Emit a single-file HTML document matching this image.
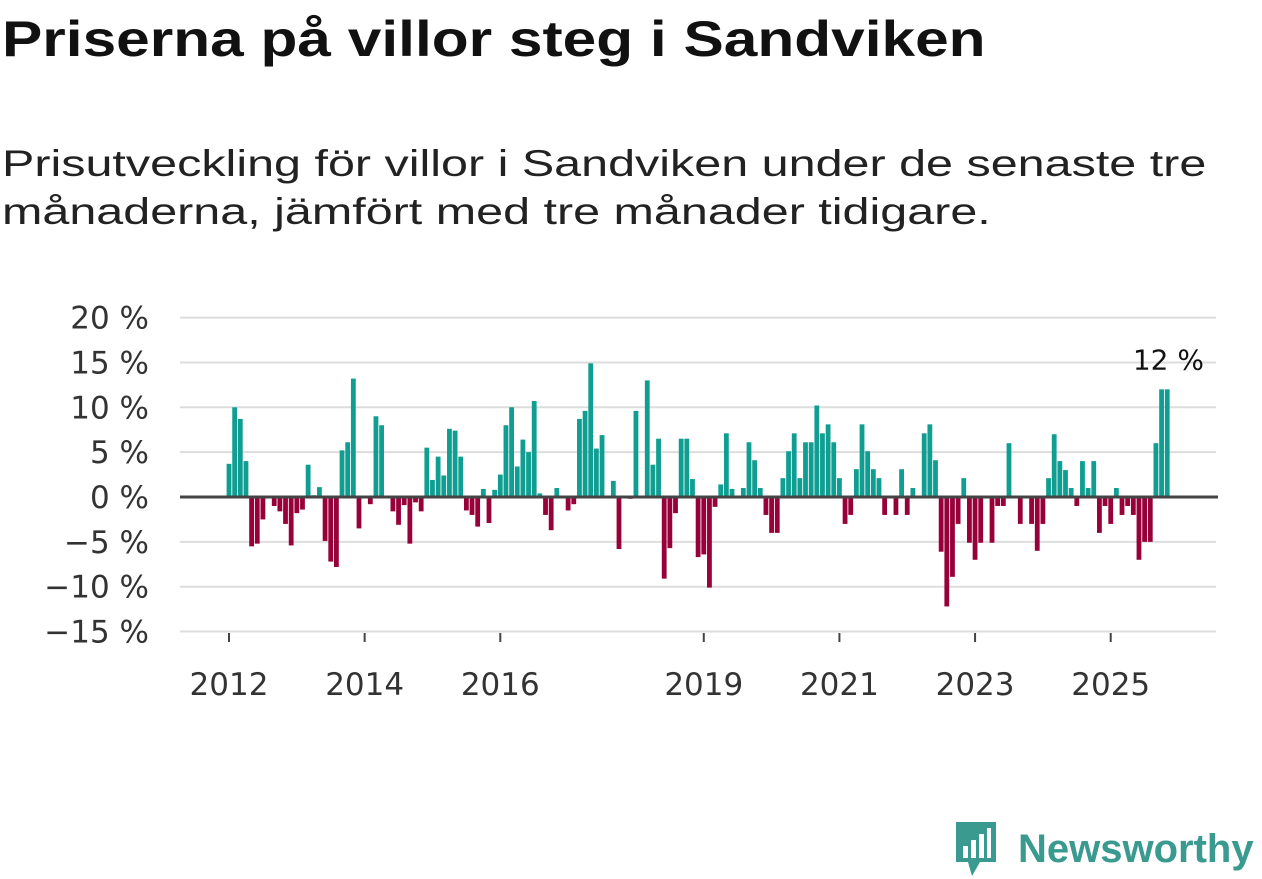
<!DOCTYPE html>
<html><head><meta charset="utf-8"><style>
body{margin:0;width:1262px;height:879px;background:#fff;font-family:"Liberation Sans",sans-serif;overflow:hidden;position:relative;color:#111}
h1{position:absolute;left:2px;top:10px;margin:0;font-size:50px;font-weight:bold;transform:scaleX(1.208);transform-origin:left top;white-space:nowrap}
.sub{position:absolute;left:2px;top:140px;margin:0;font-size:37px;line-height:48px;color:#222;transform:scaleX(1.31);transform-origin:left top;white-space:nowrap}
svg{position:absolute;left:0;top:0}
</style></head><body>
<h1>Priserna på villor steg i Sandviken</h1>
<p class="sub">Prisutveckling för villor i Sandviken under de senaste tre<br>månaderna, jämfört med tre månader tidigare.</p>
<svg id="chart" width="1262" height="879"></svg>
<div style="position:absolute;left:952px;top:820px;display:flex;align-items:center">
<svg width="48" height="58" viewBox="0 0 48 58" style="position:static"><path d="M4 2h40v40l-16 0-8 14-4-14H4z" fill="#3a9a8f"/><rect x="11" y="26" width="5" height="12" fill="#fff"/><rect x="19" y="20" width="5" height="18" fill="#fff"/><rect x="27" y="14" width="5" height="24" fill="#fff"/><rect x="35" y="8" width="4" height="30" fill="#fff"/></svg>
<span style="font-size:40px;font-weight:bold;color:#3a9a8f;margin-left:18px">Newsworthy</span></div>
<script>
const values=[3.7,10,8.7,4,-5.5,-5.2,-2.5,0,-1,-1.6,-3,-5.4,-1.8,-1.4,3.6,0.2,1.1,-4.9,-7.2,-7.8,5.2,6.1,13.2,-3.5,0,-0.8,9,8,0,-1.6,-3.1,-0.9,-5.2,-0.6,-1.6,5.5,1.9,4.5,2.4,7.6,7.4,4.5,-1.5,-2,-3.3,0.9,-2.9,0.8,2.5,8,10,3.4,6.4,5,10.7,0.4,-2,-3.7,1,0,-1.5,-0.8,8.7,9.6,14.9,5.4,6.9,0,1.8,-5.8,0,-0.2,9.6,0,13,3.6,6.5,-9.1,-5.7,-1.8,6.5,6.5,2,-6.7,-6.4,-10.1,-1.1,1.4,7.1,0.9,0,1,6.1,4.1,1,-2,-4,-4,2.1,5.1,7.1,2.1,6.1,6.1,10.2,7.1,8.1,6.1,2.1,-3,-2,3.1,8.1,5.1,3.1,2.1,-2,0,-2,3.1,-2,1,0,7.1,8.1,4.1,-6.1,-12.2,-8.9,-3,2.1,-5.1,-7,-5.1,0,-5.1,-1,-1,6,0,-3,0,-3,-6,-3,2.1,7,4,3,1,-1,4,1,4,-4,-1,-3,1,-2,-1,-2,-7,-5,-5,6,12,12];
const yTicks=[20,15,10,5,0,-5,-10,-15];
const yearLabels=["2012","2014","2016","2019","2021","2023","2025"];
const yearMonthIdx=[0,24,48,84,108,132,156];
const NS="http://www.w3.org/2000/svg",svg=document.getElementById('chart');
const y=v=>497-v*8.97, x=i=>229+i*5.652;
const FF='"DejaVu Sans", sans-serif';
function mk(t,a){const e=document.createElementNS(NS,t);for(const k in a)e.setAttribute(k,a[k]);svg.appendChild(e);return e;}
yTicks.forEach(t=>{
 if(t!==0){const g=mk('line',{x1:180,x2:1216,y1:y(t),y2:y(t),stroke:'#ddd','stroke-width':2});
 
 }
 const l=mk('text',{x:149,y:y(t)+11,'text-anchor':'end','font-size':31,fill:'#333','font-family':FF});
 l.textContent=(t<0?'−'+(-t):t)+' %';
 
 
});
values.forEach((v,i)=>{
 if(v===0)return;
 const r=mk('rect',{x:x(i)-2.4,width:4.8,y:v>0?y(v):y(0),height:Math.abs(y(v)-y(0)),fill:v>0?'#0f9e91':'#98003a'});
 
 
});
const z=mk('line',{x1:180,x2:1218,y1:y(0),y2:y(0),stroke:'#444','stroke-width':3});


yearLabels.forEach((lab,k)=>{
 const xx=x(yearMonthIdx[k]);
 const t=mk('line',{x1:xx,x2:xx,y1:633,y2:642,stroke:'#444','stroke-width':2});
 
 
 const l=mk('text',{x:xx,y:695,'text-anchor':'middle','font-size':31,fill:'#333','font-family':FF});
 l.textContent=lab;
 
 
});
const last=values.length-1;
const a=mk('text',{x:1204,y:y(15)+7,'text-anchor':'end','font-size':28,fill:'#111','font-family':FF});
a.textContent=Math.round(values[last])+' %';


</script>
</body></html>
